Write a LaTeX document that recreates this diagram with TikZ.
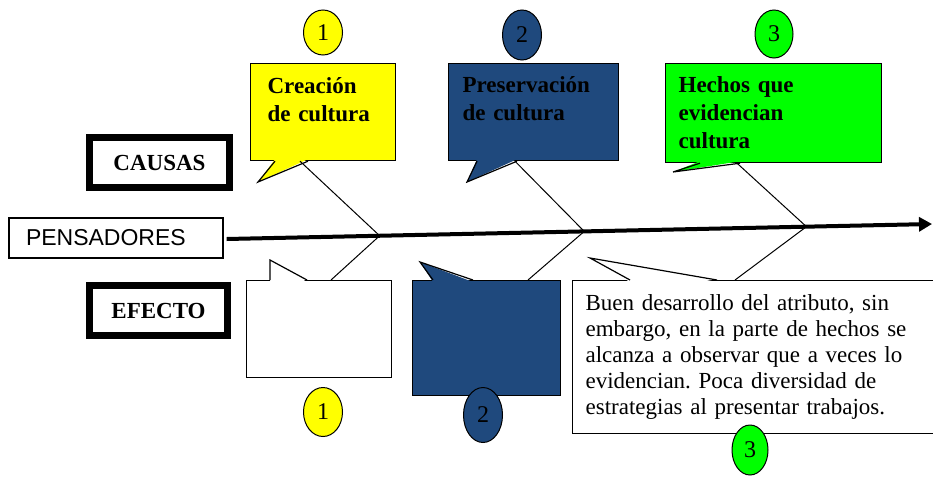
\documentclass[tikz,border=0pt]{standalone}
\usepackage{fontspec}
\setmainfont{Liberation Serif}
\newfontfamily\palo{Liberation Sans}
\usetikzlibrary{positioning, arrows.meta, shapes.geometric}
\definecolor{amarillo}{RGB}{255,255,0}
\definecolor{azul}{RGB}{31,73,125}
\definecolor{verde}{RGB}{0,255,0}
\frenchspacing
\tikzset{globo/.style={draw, line width=1.2pt, anchor=north west, inner ysep=0pt, align=left},
         titulo/.style={globo, font=\fontsize{23}{28}\selectfont\bfseries},
         marco/.style={draw, line width=7pt, inner sep=0pt, minimum height=50pt,
                       font=\fontsize{23}{28}\selectfont\bfseries},
         numero/.style={ellipse, draw, line width=1pt, inner sep=0pt, minimum width=39pt,
                        font=\fontsize{24}{28}\selectfont},
         trazo/.style={line width=1.2pt},
         hueso/.style={line width=1pt}}

\begin{document}
\begin{tikzpicture}[x=1pt, y=-1pt]
        \useasboundingbox (0,0) rectangle (933,477);
        \clip (0,0) rectangle (933,477);
        % etiquetas de la izquierda
        \node[marco, minimum width=140pt] (causas) at (159.5,162.5) {CAUSAS};
        \node[marco, minimum width=138pt] (efecto) at (158.5,310.5) {EFECTO};
        \node[draw, line width=1.2pt, inner ysep=0pt, inner xsep=17pt, minimum height=40pt,
              text width=180pt, align=left, font=\palo\fontsize{23}{28}\selectfont] (pen) at (116,238) {PENSADORES};
        % causas
        \node[titulo, fill=amarillo, inner xsep=17pt, text width=111pt,
              text height=30pt, text depth=67pt] (cre) at (250,63) {Creación\\de cultura};
        \node[titulo, fill=azul, inner xsep=14pt, text width=142pt,
              text height=29pt, text depth=68pt] (pre) at (448,63) {Preservación\\de cultura};
        \node[titulo, fill=verde, inner xsep=13pt, text width=190pt,
              text height=29pt, text depth=70pt] (hec) at (665,63) {Hechos que\\evidencian\\cultura};
        \fill[amarillo] ([xshift=25pt, yshift=2pt]cre.south west) -- (258,182) -- ([xshift=58pt, yshift=2pt]cre.south west) -- cycle;
        \draw[trazo] ([xshift=25pt]cre.south west) -- (258,182) -- ([xshift=58pt]cre.south west);
        \fill[azul] ([xshift=29pt, yshift=2pt]pre.south west) -- (467,182) -- ([xshift=69pt, yshift=2pt]pre.south west) -- cycle;
        \draw[trazo] ([xshift=29pt]pre.south west) -- (467,182) -- ([xshift=69pt]pre.south west);
        \fill[verde] ([xshift=35pt, yshift=2pt]hec.south west) -- (673,172) -- ([xshift=75pt, yshift=2pt]hec.south west) -- cycle;
        \draw[trazo] ([xshift=35pt]hec.south west) -- (673,172) -- ([xshift=75pt]hec.south west);
        % efectos
        \node[globo, fill=white, minimum width=145pt, minimum height=97pt] (efe1) at (246,280) {};
        \node[globo, fill=azul, minimum width=148pt, minimum height=115pt] (efe2) at (412,280) {};
        \node[globo, fill=white, font=\fontsize{23}{26}\selectfont, inner xsep=13pt, text width=338pt,
              text height=30pt, text depth=123pt] (efe3) at (572,280)
              {Buen desarrollo del atributo, sin\\embargo, en la parte de hechos se\\alcanza a observar que a veces lo\\evidencian. Poca diversidad de\\estrategias al presentar trabajos.};
        \fill[white] ([xshift=24pt, yshift=-2pt]efe1.north west) -- (270,260) -- ([xshift=61pt, yshift=-2pt]efe1.north west) -- cycle;
        \draw[trazo] ([xshift=24pt]efe1.north west) -- (270,260) -- ([xshift=61pt]efe1.north west);
        \fill[azul] ([xshift=21pt, yshift=-2pt]efe2.north west) -- (420,262) -- ([xshift=61pt, yshift=-2pt]efe2.north west) -- cycle;
        \draw[trazo] ([xshift=21pt]efe2.north west) -- (420,262) -- ([xshift=61pt]efe2.north west);
        \fill[white] ([xshift=58pt, yshift=-2pt]efe3.north west) -- (590,258) -- ([xshift=145pt, yshift=-2pt]efe3.north west) -- cycle;
        \draw[trazo] ([xshift=58pt]efe3.north west) -- (590,258) -- ([xshift=145pt]efe3.north west);
        % espina
        \coordinate (cabeza) at (932,224);
        \draw[line width=4pt, -{Triangle[length=13pt, width=14pt]}] ([xshift=3pt, yshift=-1pt]pen.east)
              -- coordinate[pos=0.217] (j1) coordinate[pos=0.507] (j2) coordinate[pos=0.822] (j3) (cabeza);
        \draw[hueso] ([xshift=50pt]cre.south west) -- (j1);
        \draw[hueso] ([xshift=67pt]pre.south west) -- (j2);
        \draw[hueso] ([xshift=72pt]hec.south west) -- (j3);
        \draw[hueso] (j1) -- ([xshift=85pt]efe1.north west);
        \draw[hueso] (j2) -- ([xshift=116pt]efe2.north west);
        \draw[hueso] (j3) -- ([xshift=163pt]efe3.north west);
        % numeros
        \node[numero, fill=amarillo, minimum height=45pt] (c1) at (323,32.5) {1};
        \node[numero, fill=azul, minimum height=50pt] (c2) at (522,35) {2};
        \node[numero, fill=verde, minimum width=38pt, minimum height=48pt] (c3) at (774,34) {3};
        \node[numero, fill=amarillo, minimum height=49pt] (e1) at (323,412) {1};
        \node[numero, fill=azul, minimum height=55pt] (e2) at (483,415) {2};
        \node[numero, fill=verde, minimum width=36pt, minimum height=50pt] (e3) at (750,450) {3};
\end{tikzpicture}
\end{document}
